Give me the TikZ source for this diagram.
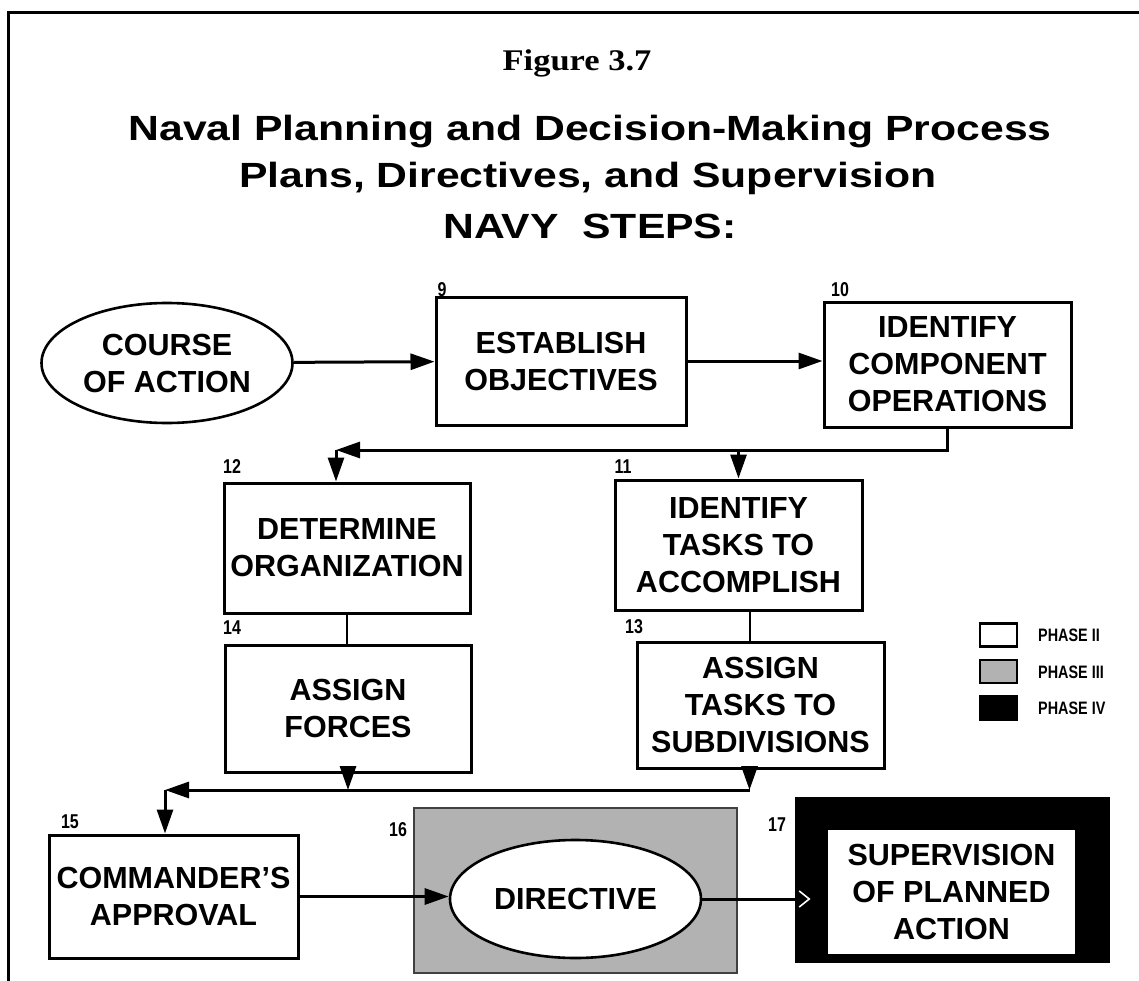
\documentclass[tikz,border=0pt]{standalone}
\usepackage{fontspec}
\setmainfont{Liberation Sans}
\newfontfamily\titlefont{Liberation Sans}[FakeStretch=1.22]
\newfontfamily\figfont{Liberation Serif}[FakeStretch=1.15]
\newfontfamily\narrowfont{Liberation Sans}[FakeStretch=0.8]
\usepackage{tikz}
\usetikzlibrary{arrows.meta,shapes.geometric,calc}
\tikzset{>={Triangle[length=24pt,width=16pt]}}
\tikzset{
  phasebox/.style={
    draw, rectangle, line width=3pt, inner sep=0pt, align=center,
    font=\bfseries\fontsize{30.5}{37}\selectfont}}
\tikzset{
  phaseoval/.style={
    draw, ellipse, line width=2.6pt, inner sep=0pt, align=center, fill=white,
    font=\bfseries\fontsize{30.5}{37}\selectfont}}
\tikzset{
  numtag/.style={inner sep=0pt, font=\narrowfont\bfseries\fontsize{20}{20}\selectfont}}
\tikzset{
  flow/.style={->, line width=3pt}}
\tikzset{
  link/.style={line width=2pt}}
\tikzset{
  legendbox/.style={draw, line width=2.4pt, minimum width=37pt, minimum height=23pt, inner sep=0pt},
  legendtext/.style={anchor=west, inner sep=0pt, font=\narrowfont\bfseries\fontsize{18}{18}\selectfont}}

\begin{document}
\begin{tikzpicture}[x=1pt,y=-1pt]
    \useasboundingbox (0,0) rectangle (1139,981);
    \draw[line width=3pt] (8,981) -- (8,13) -- (1139,13);

    \node[anchor=base, font=\figfont\bfseries\fontsize{30}{30}\selectfont] (fig) at (577,71) {Figure 3.7};
    \node[anchor=base, font=\titlefont\bfseries\fontsize{35}{35}\selectfont] (t1) at (590,141) {Naval Planning and Decision-Making Process};
    \node[anchor=base, font=\titlefont\bfseries\fontsize{35}{35}\selectfont] (t2) at (588,188) {Plans, Directives, and Supervision};
    \node[anchor=base, font=\titlefont\bfseries\fontsize{35}{35}\selectfont] (t3) at (590,239) {NAVY\ \ STEPS:};

    \node[phaseoval, minimum width=251pt, minimum height=120pt] (coa) at (167,363) {COURSE\\OF ACTION};
    \node[phasebox, minimum width=250pt, minimum height=128pt] (b9) at (561,361) {ESTABLISH\\OBJECTIVES};
    \node[phasebox, minimum width=247pt, minimum height=125pt] (b10) at (947.5,364.5) {IDENTIFY\\COMPONENT\\OPERATIONS};
    \node[phasebox, minimum width=246pt, minimum height=130pt] (b12) at (347,548) {DETERMINE\\ORGANIZATION};
    \node[phasebox, minimum width=247pt, minimum height=130pt] (b11) at (738.5,545) {IDENTIFY\\TASKS TO\\ACCOMPLISH};
    \node[phasebox, minimum width=246pt, minimum height=127pt] (b14) at (348,708.5) {ASSIGN\\FORCES};
    \node[phasebox, minimum width=247pt, minimum height=126pt] (b13) at (760.5,705) {ASSIGN\\TASKS TO\\SUBDIVISIONS};
    \node[phasebox, minimum width=249pt, minimum height=123pt] (b15) at (173.5,896.5) {COMMANDER'S\\APPROVAL};

    \node[draw=black!75, line width=2pt, fill=black!30, minimum width=323pt, minimum height=165pt] (b16) at (575.5,890.5) {};
    \node[phaseoval, minimum width=251pt, minimum height=118pt] (dir) at (575.5,899) {DIRECTIVE};
    \node[fill=black, minimum width=315pt, minimum height=166pt] (b17) at (952.5,880) {};
    \node[phasebox, draw=none, fill=white, minimum width=247pt, minimum height=124pt] (sup) at (951.5,892) {SUPERVISION\\OF PLANNED\\ACTION};

    \node[numtag] (n9) at (442,290) {9};
    \node[numtag] (n10) at (840,290) {10};
    \node[numtag] (n12) at (232,467) {12};
    \node[numtag] (n11) at (623,467) {11};
    \node[numtag] (n14) at (232,628) {14};
    \node[numtag] (n13) at (634,627) {13};
    \node[numtag] (n15) at (70,822) {15};
    \node[numtag] (n16) at (398,830) {16};
    \node[numtag] (n17) at (777,825) {17};

    \coordinate (j1) at (336,450);
    \coordinate (j2) at (165,790);
    \coordinate (m1113) at ($(b11.south)!.5!(b13.north)$);

    \draw[flow] (coa) -- (b9);
    \draw[flow] (b9.east) -- (b9.east -| b10.west);
    \draw[flow] (b10.south) |- (j1);
    \draw[flow] (j1) -- (j1 |- b12.north);
    \draw[flow] (b11.north |- j1) -- (b11.north);
    \draw[link] (b12.south) -- (b12.south |- b14.north);
    \draw[link] (m1113 |- b11.south) -- (m1113 |- b13.north);
    \draw[flow] (b14.south) -- (b14.south |- j2);
    \draw[flow] (m1113 |- b13.south) -- (m1113 |- j2);
    \draw[flow] (m1113 |- j2) -- (j2);
    \draw[flow] (j2) -- (j2 |- b15.north);
    \draw[flow] (b15.east) -- (b15.east -| dir.west);
    \draw[line width=3pt, -{Straight Barb[length=10pt,width=16pt,color=white,line width=1.6pt]}, shorten >=16pt] (dir.east) -- (dir.east -| sup.west);

    \node[legendbox] (lg2) at (998.5,635) {};
    \node[legendbox, fill=black!30] (lg3) at (998.5,671.5) {};
    \node[legendbox, fill=black] (lg4) at (998.5,708) {};
    \node[legendtext] (lt2) at (1038,635) {PHASE II};
    \node[legendtext] (lt3) at (1038,672) {PHASE III};
    \node[legendtext] (lt4) at (1038,708) {PHASE IV};
\end{tikzpicture}
\end{document}
